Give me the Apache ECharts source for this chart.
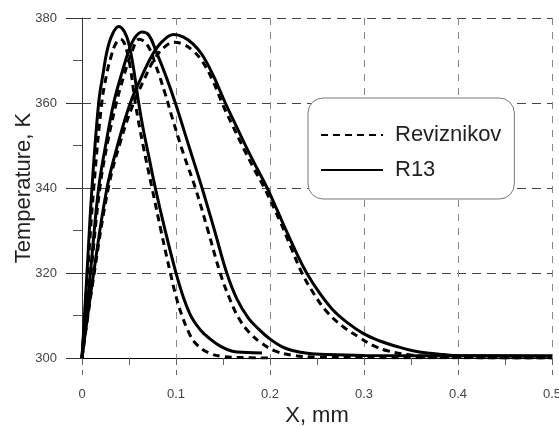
<!DOCTYPE html>
<html>
<head>
<meta charset="utf-8">
<script src="https://cdn.jsdelivr.net/npm/echarts@6/dist/echarts.min.js"></script>
<style>
  html, body { margin: 0; padding: 0; background: #fff; }
  #chart { width: 559px; height: 426px; }
</style>
</head>
<body>
<div id="chart"></div>
<script>
// tick values
var xTicks = [0, 0.1, 0.2, 0.3, 0.4, 0.5];
var yTicks = [300, 320, 340, 360, 380];

// R13 (solid) curves, [x mm, T K]
var r13Narrow = [[0,300],[0.0053,320],[0.0106,340],[0.0177,360],[0.0225,367],[0.0266,372.2],[0.032,376],[0.039,378],[0.045,376.8],[0.050,373.8],[0.0553,367.5],[0.0603,360],[0.065,354],[0.070,348.6],[0.078,340],[0.0887,329.8],[0.100,320],[0.108,314.2],[0.117,309.4],[0.126,306.6],[0.135,304.7],[0.147,302.8],[0.160,301.6],[0.175,301.3],[0.1915,301.2]];
var r13Middle = [[0,300],[0.0089,320],[0.0177,340],[0.0255,350.5],[0.0337,360],[0.041,366],[0.0496,372.2],[0.056,375.3],[0.0638,376.7],[0.071,376],[0.0787,372.2],[0.089,366.5],[0.0993,360],[0.1135,350],[0.1277,340],[0.141,330],[0.154,320],[0.165,313.8],[0.177,309.4],[0.188,306.8],[0.1986,304.7],[0.213,302.6],[0.225,301.7],[0.24,301.1],[0.26,300.8],[0.3,300.6],[0.5,300.5]];
var r13Wide = [[0,300],[0.0124,320],[0.0266,340],[0.039,351],[0.0514,360],[0.062,365.5],[0.0745,371.2],[0.086,374.6],[0.0975,376.1],[0.108,375.5],[0.118,373.9],[0.128,371.3],[0.140,366.3],[0.1525,360],[0.164,354.6],[0.175,349.5],[0.186,344.7],[0.197,340],[0.208,334.6],[0.218,329.6],[0.228,324.8],[0.239,320],[0.253,315.2],[0.267,311.3],[0.283,308.2],[0.299,305.8],[0.317,304],[0.335,302.7],[0.352,301.7],[0.37,301.1],[0.385,300.8],[0.4,300.6],[0.5,300.5]];

// Reviznikov (dashed) curves
var revNarrow = [[0,300],[0.006,320],[0.0125,340],[0.021,360],[0.026,366.5],[0.031,371],[0.036,374],[0.041,375],[0.0445,374.3],[0.048,372],[0.052,367.5],[0.0567,360],[0.065,350],[0.0745,340],[0.084,330],[0.094,320],[0.1,314.5],[0.106,310.2],[0.113,306.3],[0.1206,303.5],[0.135,301.2],[0.149,300.4],[0.17,300.1],[0.2,300]];
var revMiddle = [[0,300],[0.0095,320],[0.019,340],[0.027,350.5],[0.0365,360],[0.044,366],[0.052,371.3],[0.061,375],[0.070,373.5],[0.079,368.5],[0.088,362.5],[0.096,356.5],[0.108,348],[0.1206,340],[0.134,330],[0.147,320],[0.157,314],[0.1667,309.4],[0.178,306],[0.191,303.5],[0.206,301.6],[0.225,300.6],[0.25,300.2],[0.3,300.1],[0.5,300]];
var revWide = [[0,300],[0.013,320],[0.028,340],[0.041,351],[0.054,359.5],[0.065,365],[0.077,370.3],[0.088,373.2],[0.098,374.3],[0.108,373.8],[0.118,372.3],[0.128,369.8],[0.139,365.3],[0.150,359.5],[0.161,354.3],[0.172,349.3],[0.183,344.5],[0.194,340],[0.211,332],[0.222,326.2],[0.234,320],[0.247,315],[0.260,311],[0.277,307.5],[0.294,305],[0.310,302.9],[0.325,301.7],[0.35,300.7],[0.38,300.2],[0.5,300]];

var FONT = 'Liberation Sans, Arial, sans-serif';

function solid(data) {
	return {
		name: 'R13', type: 'line', data: data,
		smooth: 0.4, symbol: 'none',
		itemStyle: {color: '#000'},
		lineStyle: {color: '#000', width: 3, type: 'solid'}
	};
}
function dashed(data) {
	return {
		name: 'Reviznikov', type: 'line', data: data,
		smooth: 0.4, symbol: 'none',
		itemStyle: {color: '#000'},
		lineStyle: {color: '#000', width: 3, type: [7, 5]}
	};
}

var myChart = echarts.init(document.getElementById('chart'));
var option = {
	animation: false,
	backgroundColor: '#fff',
	grid: {left: 82, right: 7, top: 18, bottom: 68, containLabel: false, outerBoundsMode: 'none'},
	legend: {
		data: ['Reviznikov', 'R13'],
		orient: 'vertical',
		left: 308, top: 98,
		padding: [25, 13, 17, 12],
		itemWidth: 62, itemHeight: 24, itemGap: 11,
		backgroundColor: '#fff',
		borderColor: '#777', borderWidth: 1, borderRadius: 15,
		itemStyle: {opacity: 0},
		textStyle: {fontFamily: FONT, fontSize: 22, color: '#222', lineHeight: 24, padding: [0, 0, 0, 7]}
	},
	xAxis: {
		type: 'value',
		min: xTicks[0], max: xTicks[xTicks.length - 1], interval: 0.1,
		name: 'X, mm', nameLocation: 'middle', nameGap: 47, nameMoveOverlap: false,
		nameTextStyle: {fontFamily: FONT, fontSize: 22, color: '#222'},
		axisLine: {onZero: false, lineStyle: {color: '#000', width: 1}},
		axisTick: {length: 17, lineStyle: {color: '#666', type: [7, 5]}},
		minorTick: {show: true, splitNumber: 2, length: 7, lineStyle: {color: '#666'}},
		axisLabel: {fontFamily: FONT, fontSize: 13, color: '#444', margin: 30},
		splitLine: {show: true, lineStyle: {color: '#888', type: [7, 7]}}
	},
	yAxis: {
		type: 'value',
		min: yTicks[0], max: yTicks[yTicks.length - 1], interval: 20,
		name: 'Temperature, K', nameLocation: 'middle', nameGap: 47, nameMoveOverlap: false,
		nameTextStyle: {fontFamily: FONT, fontSize: 22, color: '#222'},
		axisLine: {show: true, onZero: false, lineStyle: {color: '#333', width: 1}},
		axisTick: {show: true, length: 16, lineStyle: {color: '#333'}},
		minorTick: {show: true, splitNumber: 2, length: 9, lineStyle: {color: '#555'}},
		axisLabel: {fontFamily: FONT, fontSize: 13, color: '#444', margin: 25},
		splitLine: {show: true, lineStyle: {color: '#444', type: [9, 6]}}
	},
	series: [
		dashed(revNarrow), dashed(revMiddle), dashed(revWide),
		solid(r13Narrow), solid(r13Middle), solid(r13Wide)
	]
};
myChart.setOption(option);
</script>
</body>
</html>
